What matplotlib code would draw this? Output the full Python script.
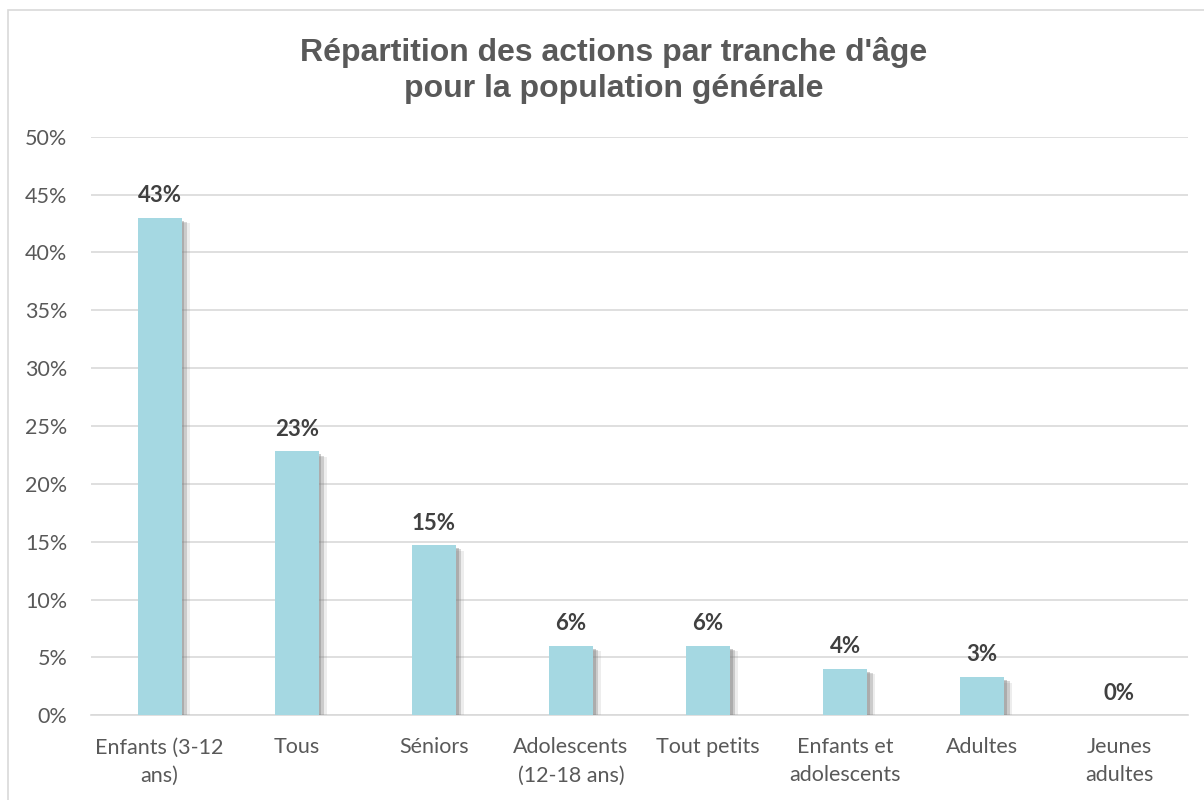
import matplotlib.pyplot as plt
import matplotlib.patheffects as pe
from matplotlib.patches import Rectangle
import numpy as np

categories = ["Enfants (3-12\nans)", "Tous", "Séniors", "Adolescents\n(12-18 ans)",
              "Tout petits", "Enfants et\nadolescents", "Adultes", "Jeunes\nadultes"]
values = [43.0, 22.8, 14.7, 6.0, 6.0, 4.0, 3.3, 0.0]
labels = ["43%", "23%", "15%", "6%", "6%", "4%", "3%", "0%"]

plt.rcParams['font.family'] = ['Lato', 'DejaVu Sans']

fig = plt.figure(figsize=(12.04, 8), dpi=100)
ax = fig.add_axes([0.0756, 0.106, 0.911, 0.723])

x = np.arange(len(categories))
bars = ax.bar(x, values, width=0.32, color="#A5D8E2", zorder=3)
# ombre douce à droite / en bas
for b in bars:
    b.set_path_effects([
        pe.SimplePatchShadow(offset=(6, -4), shadow_rgbFace="#8c8c8c", alpha=0.15),
        pe.SimplePatchShadow(offset=(4, -3), shadow_rgbFace="#7f7f7f", alpha=0.3),
        pe.SimplePatchShadow(offset=(2, -2), shadow_rgbFace="#7f7f7f", alpha=0.4),
        pe.Normal()])

for xi, v, lab in zip(x, values, labels):
    ax.text(xi, v + 1.0, lab, ha="center", va="bottom", fontsize=16,
            fontweight="bold", color="#404040", zorder=4)

ax.set_ylim(0, 50)
ax.set_xlim(-0.5, len(categories) - 0.5)
ax.set_yticks(np.arange(0, 51, 5))
ax.set_yticklabels([f"{t}%" for t in range(0, 51, 5)])
ax.set_xticks(x)
ax.set_xticklabels(categories, linespacing=1.5)
ax.tick_params(axis="both", length=0, labelsize=15.5, labelcolor="#595959")
ax.tick_params(axis="y", pad=17)
ax.tick_params(axis="x", pad=16)
ax.grid(axis="y", color="#d9d9d9", linewidth=1.2, zorder=0)
for s in ["top", "right", "left"]:
    ax.spines[s].set_visible(False)
ax.spines["bottom"].set_color("#d9d9d9")
ax.spines["bottom"].set_linewidth(1.2)

fig.text(0.51, 0.912, "Répartition des actions par tranche d'âge\npour la population générale",
         ha="center", va="center", fontsize=23, fontweight="bold", color="#595959",
         family=["Liberation Sans Narrow", "Liberation Sans", "DejaVu Sans"], linespacing=1.25)

fig.patches.append(Rectangle((8 / 1204, -0.1), 1.2, 1.1 - 10 / 800, transform=fig.transFigure,
                             fill=False, edgecolor="#d9d9d9", linewidth=1.2))

fig.savefig("out.png", dpi=100)
